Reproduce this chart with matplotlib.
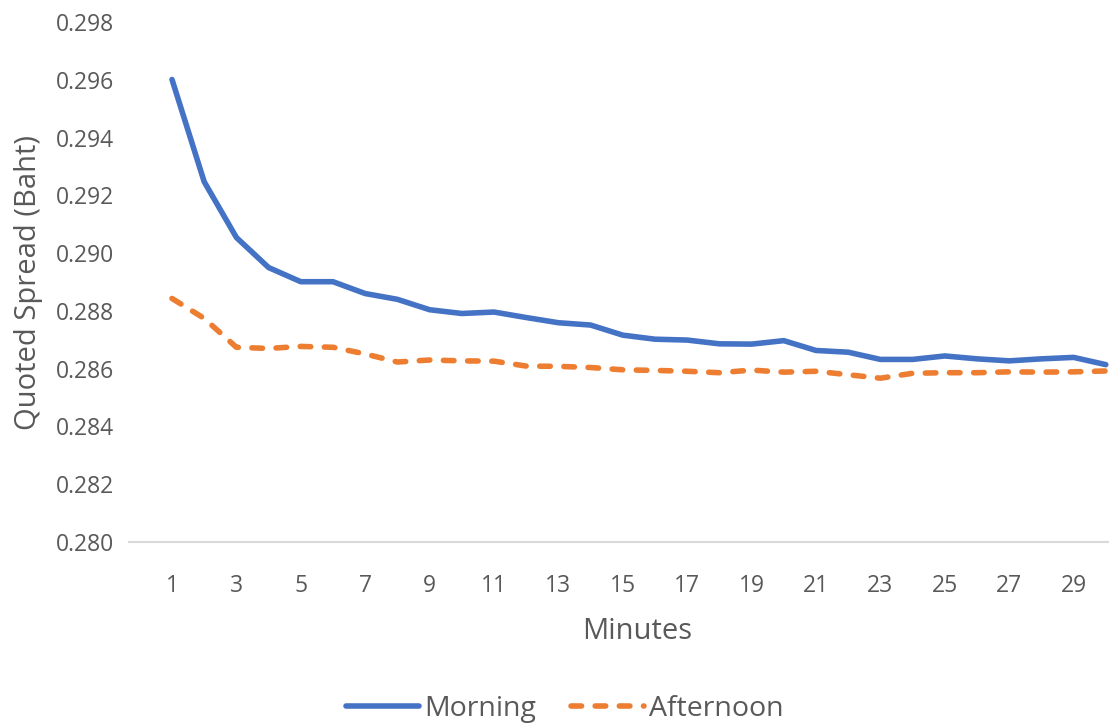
import numpy as np
import matplotlib
matplotlib.use("Agg")
import matplotlib.pyplot as plt

# minute index 1..30
minutes = list(range(1, 31))

morning = [0.29601, 0.29247, 0.29054, 0.28950, 0.28901, 0.28901, 0.28860, 0.28840,
           0.28804, 0.28791, 0.28796, 0.28777, 0.28759, 0.28751, 0.28716, 0.28702,
           0.28699, 0.28686, 0.28685, 0.28697, 0.28663, 0.28657, 0.28632, 0.28632,
           0.28644, 0.28634, 0.28627, 0.28634, 0.28639, 0.28614]

afternoon = [0.28843, 0.28774, 0.28674, 0.28670, 0.28677, 0.28674, 0.28651, 0.28623,
             0.28630, 0.28627, 0.28626, 0.28609, 0.28608, 0.28604, 0.28596, 0.28594,
             0.28591, 0.28586, 0.28595, 0.28588, 0.28591, 0.28579, 0.28567, 0.28584,
             0.28586, 0.28586, 0.28589, 0.28588, 0.28589, 0.28592]

x_ticks = list(range(1, 30, 2))
y_ticks = [0.280, 0.282, 0.284, 0.286, 0.288, 0.290, 0.292, 0.294, 0.296, 0.298]

plt.rcParams['font.family'] = ['Open Sans', 'DejaVu Sans']
txt = '#595959'
fs = 16.5      # tick labels
fs_title = 21  # axis titles
fs_leg = 20.5

W, H = 1109, 725
fig = plt.figure(figsize=(W / 100, H / 100), dpi=100)
ax = fig.add_axes([129 / W, 1 - 542 / H, (W - 129) / W, (542 - 22) / H])

ax.plot(minutes, morning, color='#4472C4', lw=4, solid_capstyle='round',
        solid_joinstyle='round', label='Morning', clip_on=False)
ax.plot(minutes, afternoon, color='#ED7D31', lw=4, dashes=(1.9, 2.45),
        dash_capstyle='round', dash_joinstyle='round', label='Afternoon', clip_on=False)

ax.set_xlim(1 - 43 / 32.2, 1 + (W - 172) / 32.2)
ax.set_ylim(0.280, 0.298)
ax.set_xticks(x_ticks)
ax.set_yticks(y_ticks)
ax.set_yticklabels([f"{v:.3f}" for v in y_ticks])

for s in ['top', 'right', 'left']:
    ax.spines[s].set_visible(False)
ax.spines['bottom'].set_color('#d9d9d9')
ax.spines['bottom'].set_linewidth(1.5)

ax.tick_params(axis='both', length=0, labelsize=fs, labelcolor=txt)
ax.tick_params(axis='y', pad=11)
ax.tick_params(axis='x', pad=23)

ax.set_xlabel('Minutes', fontsize=fs_title, color=txt)
ax.xaxis.set_label_coords(0.518, -0.145)
ax.set_ylabel('Quoted Spread (Baht)', fontsize=fs_title, color=txt, labelpad=9)

fig.legend(loc='center', bbox_to_anchor=(565 / W, 1 - 709 / H), ncol=2, frameon=False,
           fontsize=fs_leg, labelcolor=txt, handlelength=2.56, handletextpad=0.2,
           columnspacing=1.2)

fig.savefig('out.png', dpi=100)
